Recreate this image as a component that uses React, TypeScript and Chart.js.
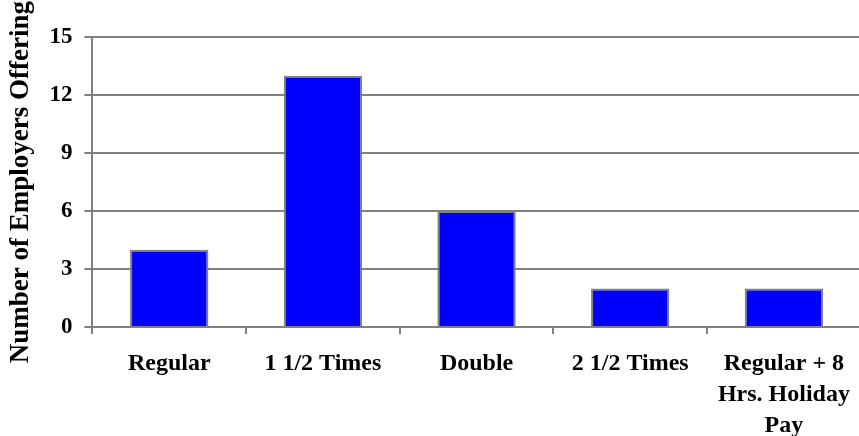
import React, { useEffect, useRef } from "react";
import { Chart, registerables } from "chart.js";

Chart.register(...registerables);

const categories: (string | string[])[] = [
  "Regular",
  "1 1/2 Times",
  "Double",
  "2 1/2 Times",
  ["Regular + 8", "Hrs. Holiday", "Pay"],
];
const employersOffering = [4, 13, 6, 2, 2];
const yAxisTitle = "Number of Employers Offering";
const yMin = 0;
const yMax = 15;
const yStep = 3;

const FONT = "'Times New Roman', 'Liberation Serif', serif";
const GRAY = "#808080";

export default function App() {
  const ref = useRef<HTMLCanvasElement | null>(null);

  useEffect(() => {
    if (!ref.current) return;
    const chart = new Chart(ref.current, {
      type: "bar",
      data: {
        labels: categories,
        datasets: [
          {
            data: employersOffering,
            backgroundColor: "#0000FF",
            borderColor: GRAY,
            borderWidth: 2,
            categoryPercentage: 1,
            barPercentage: 0.51,
          },
        ],
      },
      options: {
        responsive: false,
        animation: false,
        devicePixelRatio: 1,
        layout: { padding: { top: 37, right: 1, left: 0, bottom: 0 } },
        plugins: {
          legend: { display: false },
          tooltip: { enabled: false },
          title: { display: false },
        },
        scales: {
          x: {
            offset: true,
            grid: {
              offset: true,
              drawOnChartArea: false,
              drawTicks: true,
              tickLength: 7,
              color: GRAY,
              lineWidth: 2,
            },
            border: { display: true, color: GRAY, width: 2 },
            ticks: {
              color: "#000",
              font: { family: FONT, size: 24, weight: "bold", lineHeight: 1.29 },
              padding: 14,
              maxRotation: 0,
              minRotation: 0,
              autoSkip: false,
            },
          },
          y: {
            min: yMin,
            max: yMax,
            grid: {
              color: GRAY,
              lineWidth: 2,
              drawTicks: true,
              tickLength: 8,
            },
            border: { display: true, color: GRAY, width: 2 },
            ticks: {
              stepSize: yStep,
              color: "#000",
              font: { family: FONT, size: 23, weight: "bold" },
              padding: 12,
            },
            title: {
              display: true,
              text: yAxisTitle,
              color: "#000",
              font: { family: FONT, size: 27, weight: "bold", lineHeight: 1.2 },
              padding: { top: 5, bottom: 0 },
            },
          },
        },
      },
    });
    return () => chart.destroy();
  }, []);

  return (
    <div
      style={{
        position: "fixed",
        left: 0,
        top: 0,
        width: 859,
        height: 436,
        overflow: "hidden",
        background: "#fff",
      }}
    >
      <canvas ref={ref} width={864} height={455} style={{ display: "block" }} />
    </div>
  );
}
